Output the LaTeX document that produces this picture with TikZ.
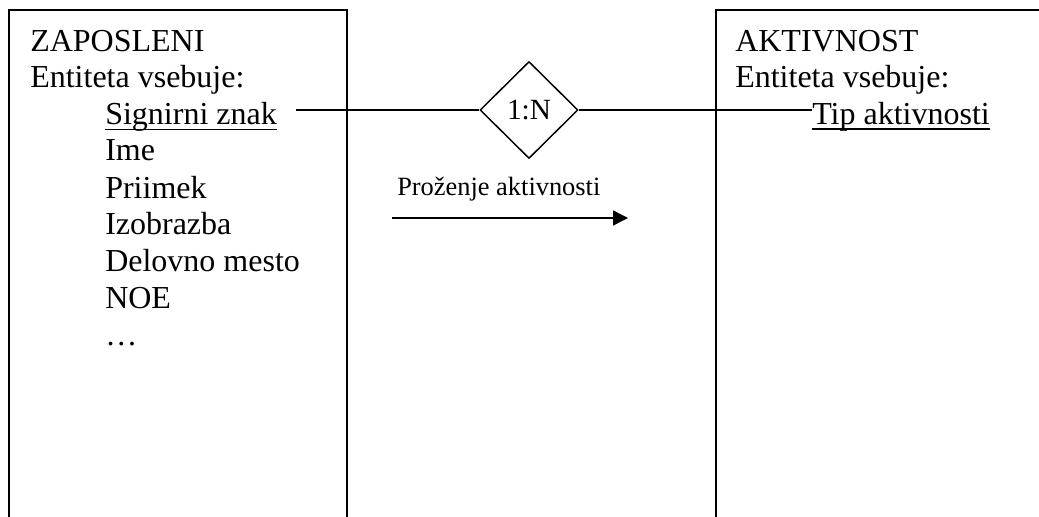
\documentclass[tikz,border=0pt]{standalone}
\usepackage{fontspec}
\setmainfont{Liberation Serif}
\usetikzlibrary{shapes.geometric,arrows.meta,calc}
\begin{document}
\begin{tikzpicture}[x=0.75pt,y=-0.75pt,
  frame/.style={line width=1.5pt},
  txt/.style={anchor=base west,inner sep=0pt,font=\fontsize{24}{28}\selectfont},
  small/.style={anchor=base west,inner sep=0pt,font=\fontsize{19.8}{24}\selectfont},
  ulline/.style={line width=1.1pt},
  conn/.style={line width=1.1pt},
  rel/.style={diamond,draw,line width=1.1pt,minimum width=73.5pt,minimum height=72.75pt,inner sep=0pt,font=\fontsize{22}{26}\selectfont}]
\useasboundingbox (0,0) rectangle (1039,517);
% entity frames, open at the bottom (and the right one at the right edge)
\coordinate (L1) at (9,517);
\coordinate (L2) at (9,10);
\coordinate (L3) at (347,10);
\coordinate (L4) at (347,517);
\draw[frame] (L1) -- (L2) -- (L3) -- (L4);
\coordinate (R1) at (716,517);
\coordinate (R2) at (716,10);
\coordinate (R3) at (1039,10);
\draw[frame] (R1) -- (R2) -- (R3);
% ZAPOSLENI entity
\node[txt] (zt) at (30,52) {ZAPOSLENI};
\node[txt] (zv) at (30,88) {Entiteta vsebuje:};
\node[txt] (sig) at (105,124.5) {Signirni znak};
\node[txt] (ime) at (105,161) {Ime};
\node[txt] (pri) at (105,198) {Priimek};
\node[txt] (izo) at (105,234.5) {Izobrazba};
\node[txt] (del) at (105,271.5) {Delovno mesto};
\node[txt] (noe) at (105,308) {NOE};
\node[txt] (dots) at (105,345) {\dots};
\draw[ulline] ($(sig.base west)+(0,5)$) -- ($(sig.base east)+(0,5)$);
% AKTIVNOST entity
\node[txt] (at) at (735,52) {AKTIVNOST};
\node[txt] (av) at (735,88) {Entiteta vsebuje:};
\node[txt] (tip) at (812,124.5) {Tip aktivnosti};
\draw[ulline] ($(tip.base west)+(0,4.5)$) -- ($(tip.base east)+(0,4.5)$);
% relationship
\node[rel] (r) at (529,110) {1:N};
\coordinate (s0) at (296,110);
\draw[conn] (s0) -- (r.west);
\draw[conn] (r.east) -- (tip.west |- r.east);
\node[small] (lab) at (397,195) {Proženje aktivnosti};
\coordinate (a0) at (392,218);
\coordinate (a1) at (628,218);
\draw[conn,-{Triangle[length=11.25pt,width=11.25pt]}] (a0) -- (a1);
\end{tikzpicture}
\end{document}
